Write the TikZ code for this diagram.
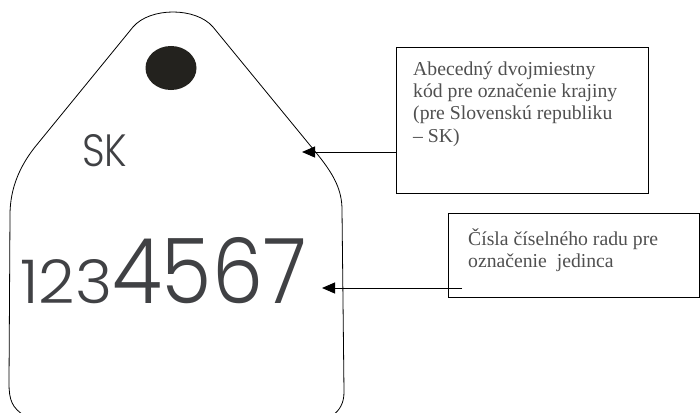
\documentclass[tikz,border=0pt]{standalone}
\usepackage{fontspec}
\usepackage{graphicx}
\setmainfont{Liberation Serif}
\newfontfamily\tagfont{Poppins Light}
\usetikzlibrary{arrows.meta}
\definecolor{tagtext}{RGB}{64,65,68}
\definecolor{holecol}{RGB}{35,34,30}
\definecolor{boxtextcol}{RGB}{80,80,80}
\tikzset{
  tagline/.style={line width=0.8pt, black},
  labelbox/.style={draw=black, line width=1.3pt, inner sep=0pt, anchor=north west},
  labeltext/.style={text=boxtextcol, align=left, inner sep=0pt, anchor=north west,
    font=\fontsize{19.7}{22.3}\selectfont},
  pointer/.style={line width=1pt, -{Triangle[length=13pt,width=11pt]}},
  tagprint/.style={text=tagtext, inner sep=0pt, anchor=south west}
}
\begin{document}
\begin{tikzpicture}[x=1pt,y=-1pt]
\clip (0,0) rectangle (700,412);
\fill[white] (0,0) rectangle (700,412);
% tag outline
\draw[tagline] (25,416) .. controls (12,408) and (9,400) .. (9,383)
  -- (10,215) .. controls (10,188) and (20,166) .. (35,147)
  -- (133,27) .. controls (150,7) and (196,7) .. (213,27)
  -- (318,155) .. controls (334,175) and (342,190) .. (342,210)
  -- (344,392) .. controls (344,403) and (340,410) .. (332,416);
% hole
\fill[holecol] (171,68) ellipse [x radius=25.5, y radius=22];
% printed texts
\node[tagprint] (sk) at (82,167) {\resizebox{45pt}{32pt}{\tagfont SK}};
\node[tagprint] (num) at (20,304) {\resizebox{92pt}{44pt}{\tagfont 123}\resizebox{194pt}{66pt}{\tagfont 4567}};
% label boxes
\node[labelbox, minimum width=252pt, minimum height=146pt] (b1) at (396,47) {};
\node[labeltext] (t1) at (413,61.5) {Abecedný dvojmiestny\\kód pre označenie krajiny\\(pre Slovenskú republiku\\– SK)};
\node[labelbox, minimum width=251pt, minimum height=84pt] (b2) at (448,213) {};
\node[labeltext] (t2) at (468,228) {Čísla číselného radu pre\\označenie \ jedinca};
% pointers
\coordinate (tip1) at (302,152);
\coordinate (tip2) at (322,288);
\coordinate (s2) at (462,288);
\draw[pointer] (tip1 -| b1.west) -- (tip1);
\draw[pointer] (s2) -- (tip2);
\end{tikzpicture}
\end{document}
